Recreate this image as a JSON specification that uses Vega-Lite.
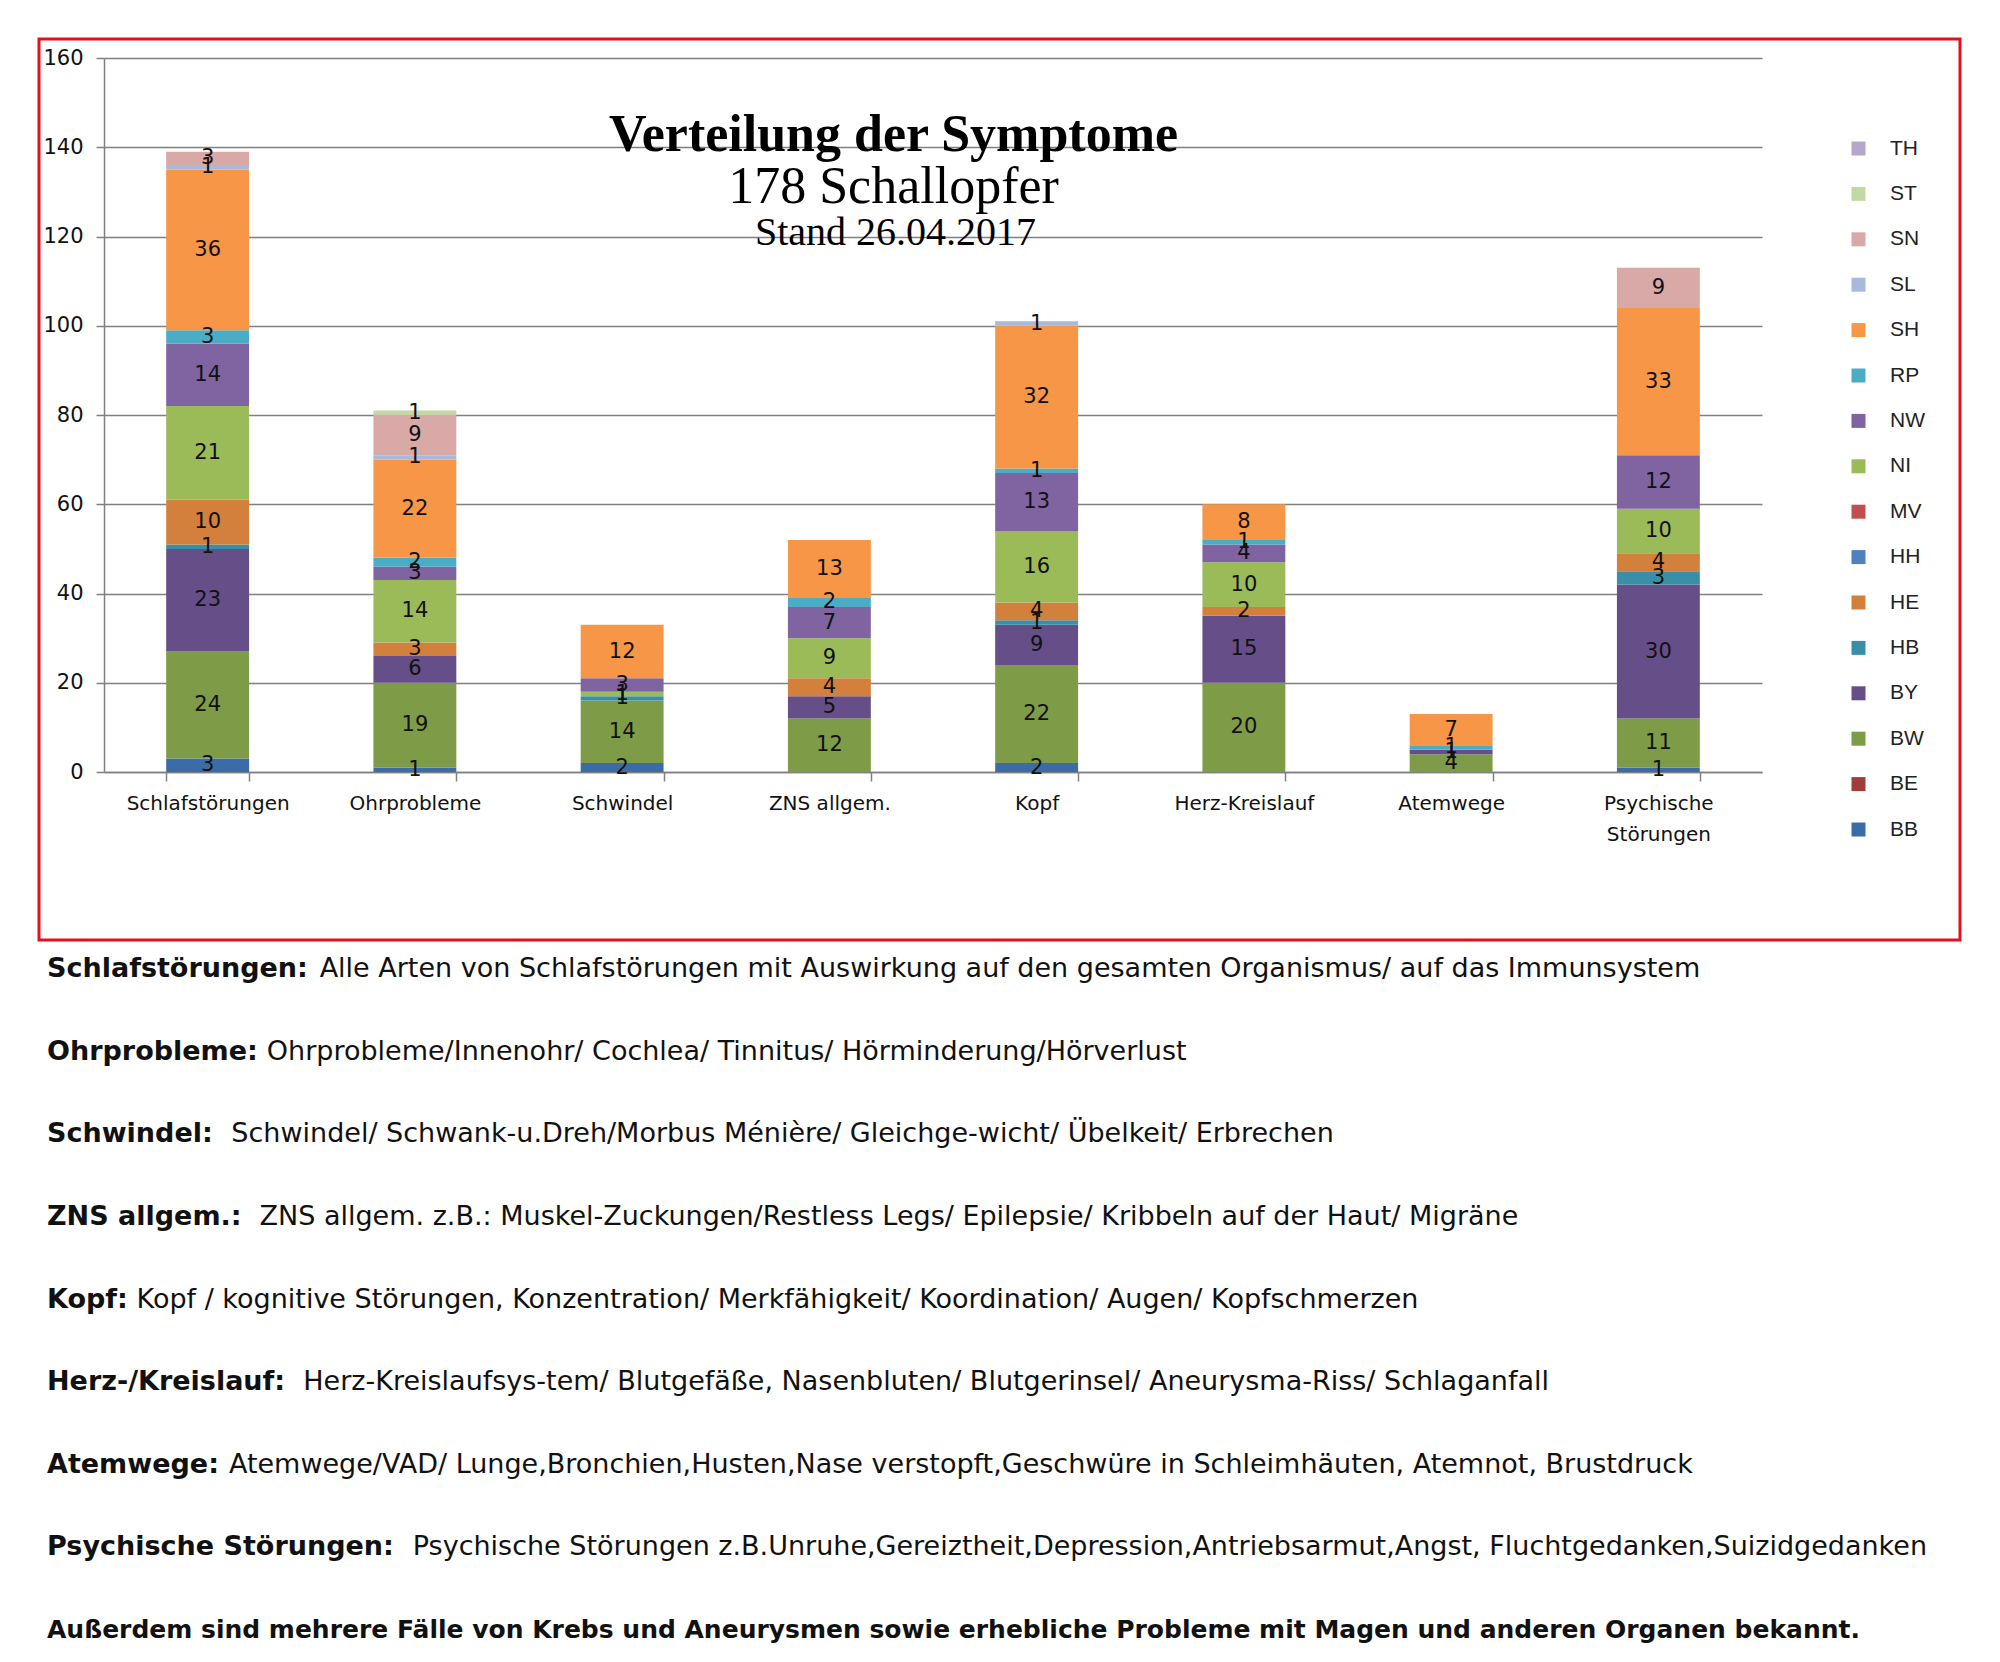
{
  "$schema": "https://vega.github.io/schema/vega-lite/v6.json",
  "background": "white",
  "padding": {"left": 37, "top": 37, "right": 0, "bottom": 0},
  "bounds": "flush",
  "spacing": 29,
  "title": {"text": "Stand 26.04.2017", "font": "Liberation Serif", "fontSize": 40, "fontWeight": "normal", "color": "#000000", "anchor": "middle", "frame": "group", "dx": -104, "offset": -215},
  "config": {"view": {"stroke": null}},
  "vconcat": [
    {
      "width": 1921,
      "height": 901,
      "view": {"stroke": "#e3111b", "strokeWidth": 3},
      "title": {"text": "Verteilung der Symptome", "subtitle": "178 Schallopfer", "font": "Liberation Serif", "fontSize": 52, "fontWeight": "bold", "color": "#000000", "subtitleFont": "Liberation Serif", "subtitleFontSize": 52, "subtitleFontWeight": "normal", "subtitleColor": "#000000", "subtitlePadding": 0, "anchor": "middle", "frame": "group", "dx": -106, "offset": -175},
      "data": {"values": [
        {"c": "Schlafstörungen", "s": "BB", "n": 3},
        {"c": "Schlafstörungen", "s": "BW", "n": 24},
        {"c": "Schlafstörungen", "s": "BY", "n": 23},
        {"c": "Schlafstörungen", "s": "HB", "n": 1},
        {"c": "Schlafstörungen", "s": "HE", "n": 10},
        {"c": "Schlafstörungen", "s": "NI", "n": 21},
        {"c": "Schlafstörungen", "s": "NW", "n": 14},
        {"c": "Schlafstörungen", "s": "RP", "n": 3},
        {"c": "Schlafstörungen", "s": "SH", "n": 36},
        {"c": "Schlafstörungen", "s": "SL", "n": 1},
        {"c": "Schlafstörungen", "s": "SN", "n": 3},
        {"c": "Ohrprobleme", "s": "BB", "n": 1},
        {"c": "Ohrprobleme", "s": "BW", "n": 19},
        {"c": "Ohrprobleme", "s": "BY", "n": 6},
        {"c": "Ohrprobleme", "s": "HE", "n": 3},
        {"c": "Ohrprobleme", "s": "NI", "n": 14},
        {"c": "Ohrprobleme", "s": "NW", "n": 3},
        {"c": "Ohrprobleme", "s": "RP", "n": 2},
        {"c": "Ohrprobleme", "s": "SH", "n": 22},
        {"c": "Ohrprobleme", "s": "SL", "n": 1},
        {"c": "Ohrprobleme", "s": "SN", "n": 9},
        {"c": "Ohrprobleme", "s": "ST", "n": 1},
        {"c": "Schwindel", "s": "BB", "n": 2},
        {"c": "Schwindel", "s": "BW", "n": 14},
        {"c": "Schwindel", "s": "HB", "n": 1},
        {"c": "Schwindel", "s": "NI", "n": 1},
        {"c": "Schwindel", "s": "NW", "n": 3},
        {"c": "Schwindel", "s": "SH", "n": 12},
        {"c": "ZNS allgem.", "s": "BW", "n": 12},
        {"c": "ZNS allgem.", "s": "BY", "n": 5},
        {"c": "ZNS allgem.", "s": "HE", "n": 4},
        {"c": "ZNS allgem.", "s": "NI", "n": 9},
        {"c": "ZNS allgem.", "s": "NW", "n": 7},
        {"c": "ZNS allgem.", "s": "RP", "n": 2},
        {"c": "ZNS allgem.", "s": "SH", "n": 13},
        {"c": "Kopf", "s": "BB", "n": 2},
        {"c": "Kopf", "s": "BW", "n": 22},
        {"c": "Kopf", "s": "BY", "n": 9},
        {"c": "Kopf", "s": "HB", "n": 1},
        {"c": "Kopf", "s": "HE", "n": 4},
        {"c": "Kopf", "s": "NI", "n": 16},
        {"c": "Kopf", "s": "NW", "n": 13},
        {"c": "Kopf", "s": "RP", "n": 1},
        {"c": "Kopf", "s": "SH", "n": 32},
        {"c": "Kopf", "s": "SL", "n": 1},
        {"c": "Herz-Kreislauf", "s": "BW", "n": 20},
        {"c": "Herz-Kreislauf", "s": "BY", "n": 15},
        {"c": "Herz-Kreislauf", "s": "HE", "n": 2},
        {"c": "Herz-Kreislauf", "s": "NI", "n": 10},
        {"c": "Herz-Kreislauf", "s": "NW", "n": 4},
        {"c": "Herz-Kreislauf", "s": "RP", "n": 1},
        {"c": "Herz-Kreislauf", "s": "SH", "n": 8},
        {"c": "Atemwege", "s": "BW", "n": 4},
        {"c": "Atemwege", "s": "BY", "n": 1},
        {"c": "Atemwege", "s": "RP", "n": 1},
        {"c": "Atemwege", "s": "SH", "n": 7},
        {"c": "Psychische Störungen", "s": "BB", "n": 1},
        {"c": "Psychische Störungen", "s": "BW", "n": 11},
        {"c": "Psychische Störungen", "s": "BY", "n": 30},
        {"c": "Psychische Störungen", "s": "HB", "n": 3},
        {"c": "Psychische Störungen", "s": "HE", "n": 4},
        {"c": "Psychische Störungen", "s": "NI", "n": 10},
        {"c": "Psychische Störungen", "s": "NW", "n": 12},
        {"c": "Psychische Störungen", "s": "SH", "n": 33},
        {"c": "Psychische Störungen", "s": "SN", "n": 9}
      ]},
      "layer": [
        {
          "mark": {"type": "bar"},
          "encoding": {
            "x": {"field": "c", "type": "nominal", "sort": ["Schlafstörungen", "Ohrprobleme", "Schwindel", "ZNS allgem.", "Kopf", "Herz-Kreislauf", "Atemwege", "Psychische Störungen"],
              "scale": {"type": "band", "range": [65, 1723], "paddingInner": 0.6, "paddingOuter": 0.3},
              "axis": {"title": null, "labelAngle": 0, "orient": "bottom", "offset": -168, "grid": false, "domainColor": "#808080", "domainWidth": 1.5, "tickColor": "#808080", "tickWidth": 1.5, "tickSize": 9, "tickBand": "extent", "labelPadding": 12, "labelFont": "DejaVu Sans", "labelFontSize": 20, "labelColor": "#111111", "labelLineHeight": 31, "labelExpr": "datum.value == 'Psychische Störungen' ? ['Psychische', 'Störungen'] : datum.label"}},
            "y": {"field": "n", "type": "quantitative", "stack": "zero",
              "scale": {"domain": [0, 160], "range": [733, 19], "nice": false},
              "axis": {"title": null, "values": [0, 20, 40, 60, 80, 100, 120, 140, 160], "offset": -65, "grid": true, "gridColor": "#808080", "gridWidth": 1.5, "domainColor": "#808080", "domainWidth": 1.5, "tickColor": "#808080", "tickWidth": 1.5, "tickSize": 8, "labelPadding": 13, "labelFont": "DejaVu Sans", "labelFontSize": 21, "labelColor": "#111111"}},
            "order": {"field": "s", "sort": "ascending"},
            "color": {"field": "s", "type": "nominal",
              "scale": {"domain": ["TH", "ST", "SN", "SL", "SH", "RP", "NW", "NI", "MV", "HH", "HE", "HB", "BY", "BW", "BE", "BB"],
                "range": ["#b4a7ca", "#c4d8a6", "#d9a9a8", "#a7b9dc", "#f79646", "#4bacc6", "#8064a2", "#9bbb59", "#c0504d", "#4f81bd", "#d3803c", "#3a8fa8", "#664e88", "#7e9b47", "#a03c3a", "#3c6ca8"]},
              "legend": {"orient": "none", "legendX": 1809, "legendY": 99, "title": null, "symbolType": "square", "symbolSize": 196, "symbolStrokeWidth": 0, "labelFont": "Liberation Sans", "labelFontSize": 21, "labelColor": "#222222", "rowPadding": 23.4, "labelOffset": 21}}
          }
        },
        {
          "mark": {"type": "text", "font": "DejaVu Sans", "fontSize": 21, "color": "#111111", "baseline": "middle"},
          "encoding": {
            "x": {"field": "c", "type": "nominal", "sort": ["Schlafstörungen", "Ohrprobleme", "Schwindel", "ZNS allgem.", "Kopf", "Herz-Kreislauf", "Atemwege", "Psychische Störungen"]},
            "y": {"field": "n", "type": "quantitative", "stack": "zero", "bandPosition": 0.5},
            "detail": {"field": "s", "type": "nominal"},
            "order": {"field": "s", "sort": "ascending"},
            "text": {"field": "n", "type": "quantitative"}
          }
        }
      ]
    },
    {
      "width": 1921,
      "height": 661,
      "data": {"values": [
        {"i": 1, "head": "Schlafstörungen:", "desc": "Alle Arten von Schlafstörungen mit Auswirkung auf den gesamten Organismus/ auf das Immunsystem"},
        {"i": 2, "head": "Ohrprobleme:", "desc": "Ohrprobleme/Innenohr/ Cochlea/ Tinnitus/ Hörminderung/Hörverlust"},
        {"i": 3, "head": "Schwindel:", "desc": "Schwindel/ Schwank-u.Dreh/Morbus Ménière/ Gleichge-wicht/ Übelkeit/ Erbrechen"},
        {"i": 4, "head": "ZNS allgem.:", "desc": "ZNS allgem. z.B.:  Muskel-Zuckungen/Restless Legs/ Epilepsie/ Kribbeln auf der Haut/ Migräne"},
        {"i": 5, "head": "Kopf:", "desc": "Kopf / kognitive Störungen, Konzentration/ Merkfähigkeit/ Koordination/ Augen/ Kopfschmerzen"},
        {"i": 6, "head": "Herz-/Kreislauf:", "desc": "Herz-Kreislaufsys-tem/ Blutgefäße, Nasenbluten/ Blutgerinsel/ Aneurysma-Riss/ Schlaganfall"},
        {"i": 7, "head": "Atemwege:", "desc": "Atemwege/VAD/ Lunge,Bronchien,Husten,Nase verstopft,Geschwüre in Schleimhäuten, Atemnot, Brustdruck"},
        {"i": 8, "head": "Psychische Störungen:", "desc": "Psychische Störungen  z.B.Unruhe,Gereiztheit,Depression,Antriebsarmut,Angst, Fluchtgedanken,Suizidgedanken"},
        {"i": 9, "head": "Außerdem sind mehrere Fälle von Krebs und  Aneurysmen  sowie erhebliche Probleme mit Magen und anderen Organen bekannt.", "desc": ""}
      ]},
      "encoding": {
        "y": {"field": "i", "type": "ordinal", "scale": {"type": "point", "padding": 0}, "axis": null}
      },
      "layer": [
        {
          "transform": [{"filter": "datum.i < 9"}],
          "mark": {"type": "text", "align": "left", "baseline": "middle", "x": 8, "font": "DejaVu Sans", "fontSize": 27, "fontWeight": "bold", "color": "#111111"},
          "encoding": {"text": {"field": "head", "type": "nominal"}}
        },
        {
          "transform": [{"filter": "datum.i < 9"}],
          "mark": {"type": "text", "align": "left", "baseline": "middle", "x": 8, "dx": {"expr": "18.63 * length(datum.head) - 7.29 * length(replace(datum.head, regexp('[^ilftr:./ j-]', 'g'), '')) + 8.91 * length(replace(datum.head, regexp('[^mwMW]', 'g'), '')) + 5.5 * length(replace(datum.head, regexp('[^OHN]', 'g'), '')) + 11"}, "font": "DejaVu Sans", "fontSize": 27, "color": "#111111"},
          "encoding": {"text": {"field": "desc", "type": "nominal"}}
        },
        {
          "transform": [{"filter": "datum.i == 9"}],
          "mark": {"type": "text", "align": "left", "baseline": "middle", "x": 8, "font": "DejaVu Sans", "fontSize": 25, "fontWeight": "bold", "color": "#111111"},
          "encoding": {"text": {"field": "head", "type": "nominal"}}
        }
      ]
    }
  ]
}
